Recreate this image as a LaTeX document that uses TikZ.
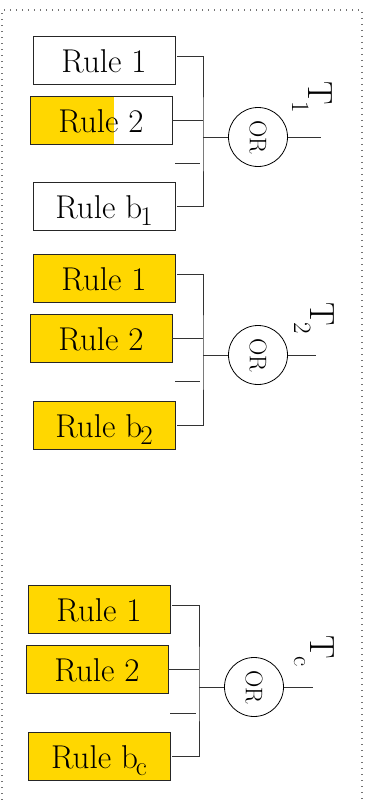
\documentclass[tikz,border=0pt]{standalone}
\usepackage{tikz}
\definecolor{rulegold}{RGB}{255,215,0}
\newcommand{\rulefont}{\fontsize{33}{38}\selectfont}
\newcommand{\orfont}{\fontsize{24}{26}\selectfont}
\newcommand{\tfont}{\fontsize{35}{40}\selectfont}
\newcommand{\bsub}[1]{\kern-2pt\raisebox{-7pt}{\fontsize{27}{27}\selectfont #1}}
\newcommand{\tsub}[1]{\kern-3pt\raisebox{-16pt}{\fontsize{25}{25}\selectfont #1}}
\tikzset{%
	rulebox/.style={
		draw=black!85,
		line width=0.8pt,
		minimum width=142pt,
		minimum height=48pt,
		inner sep=0pt,
		text height=24pt,
		text depth=0pt,
		font=\rulefont
	},
	gold/.style={fill=rulegold},
	halfgold/.style={
		path picture={\fill[rulegold] (path picture bounding box.south west)
			rectangle ([xshift=84pt]path picture bounding box.north west);}
	},
	orgate/.style={
		circle,
		draw,
		line width=0.8pt,
		minimum size=59pt,
		inner sep=0pt,
		rotate=-90,
		font=\orfont
	},
	tlabel/.style={rotate=-90, inner sep=0pt, font=\tfont},
	wire/.style={line width=0.8pt, draw=black!80},
	frame/.style={draw=black!55, line width=1.2pt, dash pattern=on 1.2pt off 4.8pt},
}
\begin{document}
\begin{tikzpicture}[x=1pt, y=-1pt]
	\useasboundingbox (0,0) rectangle (369,800);
	% dotted frame, open at the bottom
	\draw[frame] (2,806) -- (2,10) -- (362,10) -- (362,806);

	% First tree
	\node[rulebox] (t1r1) at (104,60) {Rule 1};
	\node[rulebox, halfgold] (t1r2) at (101,120) {Rule 2};
	\node[rulebox] (t1rb) at (104,206) {Rule b\bsub{1}};
	\coordinate (t1j) at (203,137);
	\draw[wire] ([xshift=2pt,yshift=4pt]t1r1.east) -| (t1j) |- ([xshift=2pt]t1rb.east);
	\draw[wire] (t1r2.east) -- (t1r2.east -| t1j);
	\coordinate (t1sa) at (175,163);
	\coordinate (t1sb) at (200,163);
	\draw[wire] (t1sa) -- (t1sb);
	\node[orgate] (t1or) at (258,137) {OR};
	\draw[wire] (t1j) -- (t1or);
	\coordinate (t1out) at (321,137);
	\draw[wire] (t1or) -- (t1out);
	\node[tlabel] (t1) at (312,97) {T\tsub{1}};

	% Second tree
	\node[rulebox, gold] (t2r1) at (104,278) {Rule 1};
	\node[rulebox, gold] (t2r2) at (101,338) {Rule 2};
	\node[rulebox, gold] (t2rb) at (104,425) {Rule b\bsub{2}};
	\coordinate (t2j) at (203,355);
	\draw[wire] ([xshift=2pt,yshift=4pt]t2r1.east) -| (t2j) |- ([xshift=2pt]t2rb.east);
	\draw[wire] (t2r2.east) -- (t2r2.east -| t2j);
	\coordinate (t2sa) at (175,381);
	\coordinate (t2sb) at (200,381);
	\draw[wire] (t2sa) -- (t2sb);
	\node[orgate] (t2or) at (258,355) {OR};
	\draw[wire] (t2j) -- (t2or);
	\coordinate (t2out) at (316,355);
	\draw[wire] (t2or) -- (t2out);
	\node[tlabel] (t2) at (314,318) {T\tsub{2}};

	% Last tree
	\node[rulebox, gold] (tcr1) at (99,609) {Rule 1};
	\node[rulebox, gold] (tcr2) at (97,669) {Rule 2};
	\node[rulebox, gold] (tcrb) at (99,756) {Rule b\bsub{c}};
	\coordinate (tcj) at (199,687);
	\draw[wire] ([xshift=2pt,yshift=4pt]tcr1.east) -| (tcj) |- ([xshift=2pt]tcrb.east);
	\draw[wire] (tcr2.east) -- (tcr2.east -| tcj);
	\coordinate (tcsa) at (170,713);
	\coordinate (tcsb) at (196,713);
	\draw[wire] (tcsa) -- (tcsb);
	\node[orgate] (tcor) at (254,687) {OR};
	\draw[wire] (tcj) -- (tcor);
	\coordinate (tcout) at (313,687);
	\draw[wire] (tcor) -- (tcout);
	\node[tlabel] (tc) at (314,651) {T\tsub{c}};
\end{tikzpicture}
\end{document}
